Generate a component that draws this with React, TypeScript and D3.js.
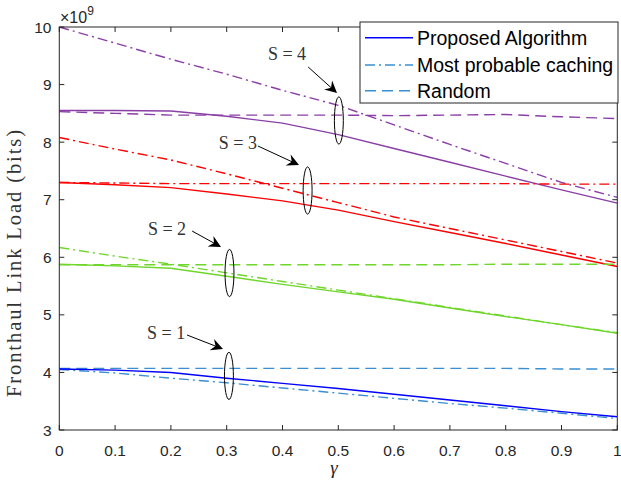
import React from "react";
import * as d3 from "d3";

const gamma = [0, 0.1, 0.2, 0.3, 0.4, 0.5, 0.6, 0.7, 0.8, 0.9, 1.0];

const s4Proposed = [8.55, 8.55, 8.54, 8.45, 8.33, 8.13, 7.89, 7.65, 7.41, 7.17, 6.94];
const s4MostProbable = [10.0, 9.72, 9.44, 9.18, 8.9, 8.64, 8.3, 7.96, 7.63, 7.3, 7.04];
const s4Random = [8.53, 8.5, 8.47, 8.47, 8.47, 8.47, 8.46, 8.47, 8.48, 8.44, 8.41];

const s3Proposed = [7.3, 7.26, 7.21, 7.1, 6.98, 6.82, 6.62, 6.43, 6.24, 6.04, 5.84];
const s3MostProbable = [8.08, 7.88, 7.69, 7.45, 7.2, 6.95, 6.7, 6.5, 6.3, 6.1, 5.9];
const s3Random = [7.3, 7.29, 7.28, 7.28, 7.28, 7.28, 7.28, 7.28, 7.28, 7.27, 7.27];

const s2Proposed = [5.88, 5.85, 5.81, 5.67, 5.53, 5.4, 5.27, 5.12, 4.97, 4.83, 4.68];
const s2MostProbable = [6.17, 6.02, 5.88, 5.73, 5.58, 5.43, 5.28, 5.13, 4.98, 4.83, 4.69];
const s2Random = [5.87, 5.87, 5.87, 5.87, 5.87, 5.87, 5.87, 5.87, 5.88, 5.88, 5.88];

const s1Proposed = [4.06, 4.04, 4.0, 3.9, 3.81, 3.72, 3.62, 3.52, 3.42, 3.32, 3.23];
const s1MostProbable = [4.05, 3.99, 3.9, 3.82, 3.73, 3.64, 3.55, 3.46, 3.38, 3.29, 3.2];
const s1Random = [4.07, 4.07, 4.07, 4.07, 4.07, 4.07, 4.07, 4.07, 4.07, 4.06, 4.06];

const xTicks = [0, 0.1, 0.2, 0.3, 0.4, 0.5, 0.6, 0.7, 0.8, 0.9, 1];
const yTicks = [3, 4, 5, 6, 7, 8, 9, 10];

const legendLabels = ["Proposed Algorithm", "Most probable caching", "Random"];

// annotations in data coordinates
const annLabels = ["S = 4", "S = 3", "S = 2", "S = 1"];
const annText = [
  [0.408, 9.427],
  [0.32, 7.881],
  [0.193, 6.387],
  [0.1915, 4.58],
];
const annArrowFrom = [
  [0.446, 9.305],
  [0.356, 7.933],
  [0.238, 6.456],
  [0.2289, 4.65],
];
const annArrowTo = [
  [0.4977, 8.854],
  [0.4296, 7.603],
  [0.2898, 6.179],
  [0.2934, 4.407],
];
const annEllipse = [
  [0.501, 8.376],
  [0.445, 7.16],
  [0.305, 5.727],
  [0.304, 3.94],
];
const ellipseHalfHeight = 0.41;
const ellipseHalfWidth = 0.008;

const PURPLE = "#8a3fa6";
const RED = "#ff0000";
const GREEN = "#6fd62c";
const BLUE = "#0000ff";
const LBLUE = "#3a8ed2";
const AX = "#262626";

const DASH = "11,6";
const DASHDOT = "10,4,2,4";

const series = [
  { data: s4Proposed, color: PURPLE, dash: null },
  { data: s4MostProbable, color: PURPLE, dash: DASHDOT },
  { data: s4Random, color: PURPLE, dash: DASH },
  { data: s3Proposed, color: RED, dash: null },
  { data: s3MostProbable, color: RED, dash: DASHDOT },
  { data: s3Random, color: RED, dash: DASHDOT },
  { data: s2Proposed, color: GREEN, dash: null },
  { data: s2MostProbable, color: GREEN, dash: DASHDOT },
  { data: s2Random, color: GREEN, dash: DASH },
  { data: s1Random, color: LBLUE, dash: DASH },
  { data: s1MostProbable, color: LBLUE, dash: DASHDOT },
  { data: s1Proposed, color: BLUE, dash: null },
];

const legendStyles = [
  { color: BLUE, dash: null },
  { color: LBLUE, dash: DASHDOT },
  { color: LBLUE, dash: DASH },
];

export default function App() {
  const W = 621;
  const H = 480;
  const left = 59.3;
  const right = 617.3;
  const top = 27;
  const bottom = 430;

  const x = d3.scaleLinear().domain([0, 1]).range([left, right]);
  const y = d3.scaleLinear().domain([3, 10]).range([bottom, top]);

  const line = d3
    .line<number>()
    .x((_, i) => x(gamma[i]))
    .y((d) => y(d));

  const tickLen = 5;

  const arrowHead = (fx: number, fy: number, tx: number, ty: number) => {
    const ang = Math.atan2(ty - fy, tx - fx);
    const L = 12;
    const hw = 6;
    const notch = 8;
    const cos = Math.cos(ang);
    const sin = Math.sin(ang);
    const bx = tx - L * cos;
    const by = ty - L * sin;
    const p1 = [bx - hw * sin, by + hw * cos];
    const p2 = [bx + hw * sin, by - hw * cos];
    const n = [tx - notch * cos, ty - notch * sin];
    return `M${tx},${ty}L${p1[0]},${p1[1]}L${n[0]},${n[1]}L${p2[0]},${p2[1]}Z`;
  };

  const legX = 360;
  const legY = 22;
  const legW = 258;
  const legH = 81;
  const rowY = [37.7, 65, 90.7];

  return (
    <svg
      width={W}
      height={H}
      style={{ position: "absolute", left: 0, top: 0, background: "#fff" }}
      fontFamily="'Liberation Sans', Arial, sans-serif"
    >
      <rect x={0} y={0} width={W} height={H} fill="#fff" />
      <defs>
        <clipPath id="plotclip">
          <rect x={left} y={top} width={right - left} height={bottom - top} />
        </clipPath>
      </defs>

      {/* series */}
      <g clipPath="url(#plotclip)">
        {series.map((s, i) => (
          <path
            key={i}
            d={line(s.data) || ""}
            fill="none"
            stroke={s.color}
            strokeWidth={1.4}
            strokeDasharray={s.dash || undefined}
          />
        ))}
      </g>

      {/* axes box */}
      <rect x={left} y={top} width={right - left} height={bottom - top} fill="none" stroke={AX} strokeWidth={1} />

      {/* x ticks */}
      {xTicks.map((t) => (
        <g key={"xt" + t}>
          <line x1={x(t)} x2={x(t)} y1={bottom} y2={bottom - tickLen} stroke={AX} />
          <line x1={x(t)} x2={x(t)} y1={top} y2={top + tickLen} stroke={AX} />
          <text x={x(t)} y={455.5} textAnchor="middle" fontSize={15.5} fill={AX}>
            {String(t)}
          </text>
        </g>
      ))}
      {/* y ticks */}
      {yTicks.map((t) => (
        <g key={"yt" + t}>
          <line x1={left} x2={left + tickLen} y1={y(t)} y2={y(t)} stroke={AX} />
          <line x1={right} x2={right - tickLen} y1={y(t)} y2={y(t)} stroke={AX} />
          <text x={51.5} y={y(t) + 5.5} textAnchor="end" fontSize={15.5} fill={AX}>
            {String(t)}
          </text>
        </g>
      ))}

      {/* exponent */}
      <text x={60} y={23} fontSize={16} fill={AX}>
        {"×10"}
        <tspan dy={-8} fontSize={12}>
          9
        </tspan>
      </text>

      {/* axis labels */}
      <text
        transform={`translate(21,263.5) rotate(-90)`}
        textAnchor="middle"
        fontFamily="'Liberation Serif', 'Times New Roman', serif"
        fontSize={20.5}
        fill="#333"
        textLength={267}
        lengthAdjust="spacing"
      >
        Fronthaul Link Load (bits)
      </text>
      <text
        x={334}
        y={474}
        textAnchor="middle"
        fontFamily="'Liberation Serif', 'Times New Roman', serif"
        fontStyle="italic"
        fontSize={19}
        fill={AX}
      >
        γ
      </text>

      {/* annotations */}
      {annLabels.map((lab, i) => {
        const fx = x(annArrowFrom[i][0]);
        const fy = y(annArrowFrom[i][1]);
        const tx = x(annArrowTo[i][0]);
        const ty = y(annArrowTo[i][1]);
        const ex = x(annEllipse[i][0]);
        const ey = y(annEllipse[i][1]);
        const ry = y(annEllipse[i][1] - ellipseHalfHeight) - ey;
        const rx = x(annEllipse[i][0] + ellipseHalfWidth) - ex;
        return (
          <g key={"ann" + i}>
            <text
              x={x(annText[i][0])}
              y={y(annText[i][1])}
              textAnchor="middle"
              fontFamily="'Liberation Serif', 'Times New Roman', serif"
              fontSize={18}
              fill="#333"
            >
              {lab}
            </text>
            <line x1={fx} y1={fy} x2={tx - (tx - fx) * 0.05} y2={ty - (ty - fy) * 0.05} stroke="#000" strokeWidth={1} />
            <path d={arrowHead(fx, fy, tx, ty)} fill="#000" />
            <ellipse cx={ex} cy={ey} rx={rx} ry={ry} fill="none" stroke="#000" strokeWidth={1} />
          </g>
        );
      })}

      {/* legend */}
      <rect x={legX} y={legY} width={legW} height={legH} fill="#fff" stroke={AX} strokeWidth={1} />
      {legendLabels.map((lab, i) => (
        <g key={"leg" + i}>
          <line
            x1={365}
            x2={413}
            y1={rowY[i]}
            y2={rowY[i]}
            stroke={legendStyles[i].color}
            strokeWidth={1.5}
            strokeDasharray={legendStyles[i].dash || undefined}
          />
          <text x={417} y={rowY[i] + 7} fontSize={19.5} fill="#000">
            {lab}
          </text>
        </g>
      ))}
    </svg>
  );
}
